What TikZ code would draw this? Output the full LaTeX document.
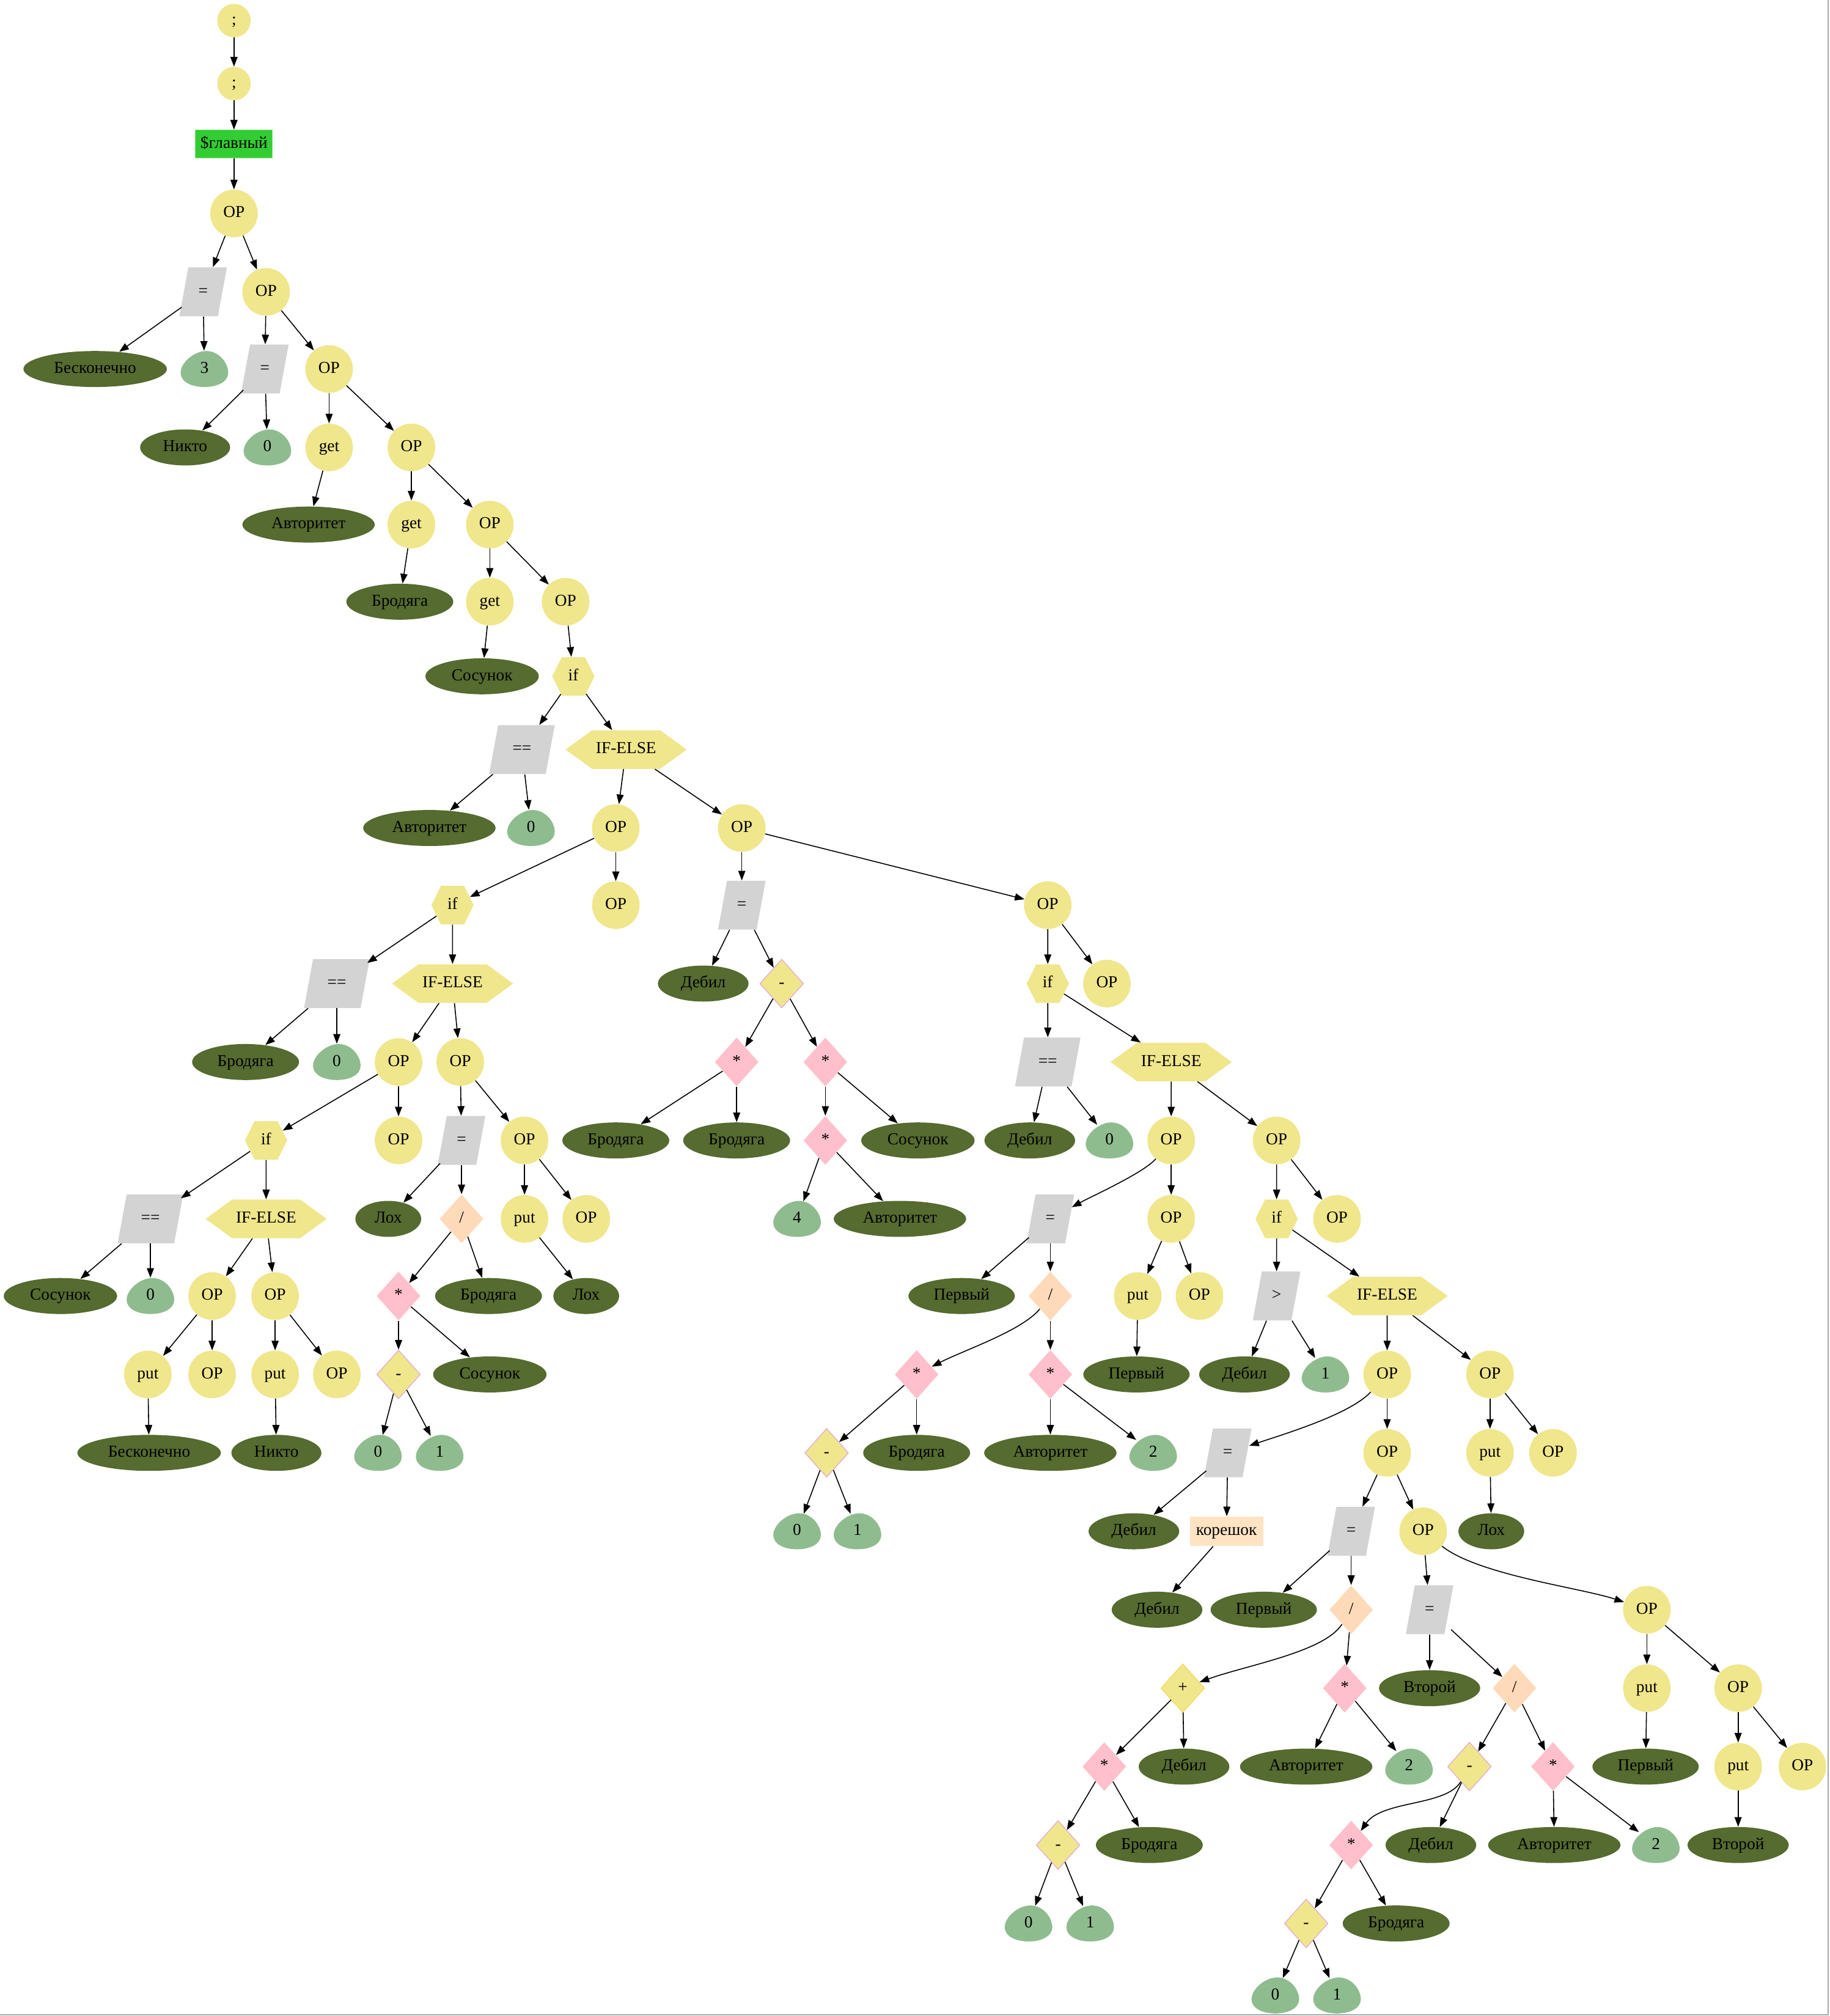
\documentclass[tikz,border=0pt]{standalone}
\usepackage{fontspec}
\setmainfont{Liberation Serif}
\usetikzlibrary{arrows.meta,shapes.geometric,shapes.symbols}
\definecolor{khakic}{HTML}{F0E68C}
\definecolor{lgrayc}{HTML}{D3D3D3}
\definecolor{doliv}{HTML}{556B2F}
\definecolor{eggc}{HTML}{8FBC8F}
\definecolor{limec}{HTML}{32CD32}
\definecolor{pinkc}{HTML}{FFC0CB}
\definecolor{peachc}{HTML}{FFDAB9}
\definecolor{bisquec}{HTML}{FFE4C4}
\definecolor{plumc}{HTML}{DDA0DD}
\definecolor{goldc}{HTML}{F2D94A}
\tikzset{
  every node/.append style={text height=9pt, text depth=2.6pt},
  semi/.style={circle, fill=khakic, minimum size=26pt, inner sep=0pt},
  opn/.style={circle, fill=khakic, minimum size=37pt, inner sep=0pt},
  mainbox/.style={rectangle, fill=limec, draw=limec!60!white, line width=0.4pt, minimum width=60pt, minimum height=22pt, inner sep=2pt},
  kbox/.style={rectangle, fill=bisquec, minimum width=57pt, minimum height=23pt, inner sep=2pt},
  asgbox/.style={rectangle, minimum height=38pt, inner sep=0pt},
  var/.style={ellipse, fill=doliv, minimum height=28pt, inner xsep=7.5pt, inner ysep=1pt},
  eggtext/.style={ellipse, minimum width=37pt, minimum height=28pt, inner sep=0pt},
  ifhex/.style={signal, signal to=east and west, signal pointer angle=127, fill=khakic, minimum height=30pt, inner xsep=5pt, inner ysep=0pt},
  ifelse/.style={signal, signal to=east and west, signal pointer angle=72, fill=khakic, minimum height=30pt, inner xsep=3pt, inner ysep=0pt},
  dmd/.style={diamond, minimum width=34pt, minimum height=38pt, inner sep=0pt},
  subd/.style={dmd, fill=khakic, draw=plumc, line width=0.5pt},
  plusd/.style={dmd, fill=khakic, draw=goldc, line width=0.5pt},
  muld/.style={dmd, fill=pinkc},
  divd/.style={dmd, fill=peachc},
  conn/.style={-{Triangle[length=7.5pt,width=5.5pt]}, line width=0.75pt},
}
\newcommand\eggnode[3]{%
  \fill[eggc, shift={(#2)}] (1.5,-14) .. controls (11,-14) and (18.5,-5) .. (18.5,3) .. controls (18.5,10) and (10,14) .. (0,14) .. controls (-10,14) and (-18.5,10) .. (-18.5,3) .. controls (-18.5,-5) and (-8,-14) .. (1.5,-14) -- cycle;
  \node[eggtext] (#1) at (#2) {#3};}
% parallelogram: name, position, text, half edge width
\newcommand\asgnode[4]{%
  \fill[lgrayc, shift={(#2)}] (-#4+3.5,-19) -- (#4+3.5,-19) -- (#4-3.5,19) -- (-#4-3.5,19) -- cycle;
  \node[asgbox, minimum width=2*#4+3pt] (#1) at (#2) {#3};}
\begin{document}
\begin{tikzpicture}[x=1pt, y=-1pt, font=\fontsize{13}{15}\selectfont]
\useasboundingbox (0,0) rectangle (1423,1568);
\fill[white] (0,0) rectangle (1423,1568);
\draw[gray!70, line width=1pt] (1422,0) -- (1422,1567) -- (0,1567);
% top chain
\node[semi] (s1) at (182,16) {;};
\node[semi] (s2) at (182,65) {;};
\node[mainbox] (m) at (182,112) {\$главный};
\node[opn] (o1) at (182,166) {OP};
\asgnode{e1}{158,227}{=}{15}
\node[opn] (o2) at (207,227) {OP};
\node[var] (v1) at (74,287) {Бесконечно};
\eggnode{k1}{159,287}{3}
\asgnode{e2}{206,287}{=}{15}
\node[opn] (o3) at (256,287) {OP};
\node[var] (v2) at (144,348) {Никто};
\eggnode{k2}{208,348}{0}
\node[opn] (g1) at (256,348) {get};
\node[opn] (o4) at (320,348) {OP};
\node[var] (v3) at (240,408) {Авторитет};
\node[opn] (g2) at (320,408) {get};
\node[opn] (o5) at (381,408) {OP};
\node[var] (v4) at (311,468) {Бродяга};
\node[opn] (g3) at (381,468) {get};
\node[opn] (o6) at (440,468) {OP};
\node[var] (v5) at (375,526) {Сосунок};
\node[ifhex] (i1) at (446,526) {if};
\asgnode{c1}{406,583}{==}{22}
\node[ifelse] (ie1) at (487,583) {IF-ELSE};
\node[var] (v6) at (334,644) {Авторитет};
\eggnode{k3}{413,644}{0}
\node[opn] (o7) at (479,644) {OP};
\node[opn] (o8) at (577,644) {OP};
% o7 branch
\node[ifhex] (i2) at (352,704) {if};
\node[opn] (o9) at (479,704) {OP};
\asgnode{c2}{262,765}{==}{22}
\node[ifelse] (ie2) at (352,765) {IF-ELSE};
\node[var] (v7) at (191,826) {Бродяга};
\eggnode{k4}{262,826}{0}
\node[opn] (o10) at (310,826) {OP};
\node[opn] (o11) at (358,826) {OP};
\node[ifhex] (i3) at (207,887) {if};
\node[opn] (o12) at (310,887) {OP};
\asgnode{c3}{117,948}{==}{22}
\node[ifelse] (ie3) at (207,948) {IF-ELSE};
\node[var] (v8) at (47,1008) {Сосунок};
\eggnode{k5}{117,1008}{0}
\node[opn] (o13) at (165,1008) {OP};
\node[opn] (o14) at (214,1008) {OP};
\node[opn] (p1) at (115,1069) {put};
\node[opn] (o15) at (165,1069) {OP};
\node[var] (v9) at (116,1130) {Бесконечно};
\node[opn] (p2) at (214,1069) {put};
\node[opn] (o16) at (262,1069) {OP};
\node[var] (v10) at (215,1130) {Никто};
% o11 branch
\asgnode{e3}{359,887}{=}{15}
\node[opn] (o17) at (408,887) {OP};
\node[var] (v11) at (302,948) {Лох};
\node[divd] (d1) at (359,948) {/};
\node[muld] (x1) at (310,1008) {*};
\node[var] (v12) at (380,1008) {Бродяга};
\node[subd] (n1) at (310,1069) {-};
\node[var] (v13) at (381,1069) {Сосунок};
\eggnode{k6}{294,1130}{0}
\eggnode{k7}{342,1130}{1}
\node[opn] (p3) at (408,948) {put};
\node[opn] (o18) at (456,948) {OP};
\node[var] (v14) at (456,1008) {Лох};
% o8 branch
\asgnode{e4}{577,704}{=}{15}
\node[opn] (o19) at (815,704) {OP};
\node[var] (v15) at (547,765) {Дебил};
\node[subd] (n2) at (608,765) {-};
\node[muld] (x2) at (573,826) {*};
\node[muld] (x3) at (642,826) {*};
\node[var] (v16) at (479,887) {Бродяга};
\node[var] (v17) at (573,887) {Бродяга};
\node[muld] (x4) at (642,887) {*};
\node[var] (v18) at (714,887) {Сосунок};
\eggnode{k8}{620,948}{4}
\node[var] (v19) at (700,948) {Авторитет};
% o19 branch
\node[ifhex] (i4) at (815,765) {if};
\node[opn] (o20) at (861,765) {OP};
\asgnode{c4}{815,826}{==}{22}
\node[ifelse] (ie4) at (911,826) {IF-ELSE};
\node[var] (v20) at (801,887) {Дебил};
\eggnode{k9}{863,887}{0}
\node[opn] (o21) at (911,887) {OP};
\node[opn] (o22) at (993,887) {OP};
\asgnode{e5}{817,948}{=}{15}
\node[opn] (o23) at (911,948) {OP};
\node[var] (v21) at (748,1008) {Первый};
\node[divd] (d2) at (817,1008) {/};
\node[muld] (x5) at (713,1069) {*};
\node[muld] (x6) at (817,1069) {*};
\node[subd] (n3) at (643,1130) {-};
\node[var] (v22) at (713,1130) {Бродяга};
\eggnode{k10}{620,1191}{0}
\eggnode{k11}{667,1191}{1}
\node[var] (v23) at (817,1130) {Авторитет};
\eggnode{k12}{897,1130}{2}
\node[opn] (p4) at (885,1008) {put};
\node[opn] (o24) at (933,1008) {OP};
\node[var] (v24) at (884,1069) {Первый};
% o22 branch
\node[ifhex] (i5) at (993,948) {if};
\node[opn] (o25) at (1040,948) {OP};
\asgnode{c5}{993,1008}{>}{15}
\node[ifelse] (ie5) at (1079,1008) {IF-ELSE};
\node[var] (v25) at (968,1069) {Дебил};
\eggnode{k13}{1031,1069}{1}
\node[opn] (o26) at (1079,1069) {OP};
\node[opn] (o27) at (1159,1069) {OP};
\asgnode{e6}{955,1130}{=}{15}
\node[opn] (o28) at (1079,1130) {OP};
\node[var] (v26) at (882,1191) {Дебил};
\node[kbox] (kb) at (954,1191) {корешок};
\node[var] (v27) at (900,1252) {Дебил};
\asgnode{e7}{1051,1191}{=}{15}
\node[opn] (o29) at (1107,1191) {OP};
\node[var] (v28) at (983,1252) {Первый};
\node[divd] (d3) at (1051,1252) {/};
\node[plusd] (pl) at (920,1313) {+};
\node[muld] (x7) at (1046,1313) {*};
\node[muld] (x8) at (859,1374) {*};
\node[var] (v29) at (921,1374) {Дебил};
\node[subd] (n4) at (823,1435) {-};
\node[var] (v30) at (894,1435) {Бродяга};
\eggnode{k14}{800,1496}{0}
\eggnode{k15}{848,1496}{1}
\node[var] (v31) at (1016,1374) {Авторитет};
\eggnode{k16}{1096,1374}{2}
\asgnode{e8}{1112,1252}{=}{15}
\node[opn] (o30) at (1281,1252) {OP};
\node[var] (v32) at (1112,1313) {Второй};
\node[divd] (d4) at (1178,1313) {/};
\node[subd] (n5) at (1143,1374) {-};
\node[muld] (x9) at (1208,1374) {*};
\node[muld] (x10) at (1051,1435) {*};
\node[var] (v33) at (1113,1435) {Дебил};
\node[subd] (n6) at (1016,1496) {-};
\node[var] (v34) at (1086,1496) {Бродяга};
\eggnode{k17}{992,1552}{0}
\eggnode{k18}{1040,1552}{1}
\node[var] (v35) at (1209,1435) {Авторитет};
\eggnode{k19}{1288,1435}{2}
\node[opn] (p5) at (1281,1313) {put};
\node[opn] (o31) at (1352,1313) {OP};
\node[var] (v36) at (1280,1374) {Первый};
\node[opn] (p6) at (1352,1374) {put};
\node[opn] (o32) at (1402,1374) {OP};
\node[var] (v37) at (1352,1435) {Второй};
\node[opn] (p7) at (1159,1130) {put};
\node[opn] (o33) at (1208,1130) {OP};
\node[var] (v38) at (1160,1191) {Лох};
% straight connectors
\foreach \a/\b in {s1/s2, s2/m, m/o1, o1/e1, o1/o2, e1/v1, e1/k1, o2/e2, o2/o3, e2/v2, e2/k2,
  o3/g1, o3/o4, g1/v3, o4/g2, o4/o5, g2/v4, o5/g3, o5/o6, g3/v5, o6/i1, i1/c1, i1/ie1,
  c1/v6, c1/k3, ie1/o7, ie1/o8, o7/i2, o7/o9, i2/c2, i2/ie2, c2/v7, c2/k4, ie2/o10, ie2/o11,
  o10/i3, o10/o12, i3/c3, i3/ie3, c3/v8, c3/k5, ie3/o13, ie3/o14, o13/p1, o13/o15, p1/v9,
  o14/p2, o14/o16, p2/v10, o11/e3, o11/o17, e3/v11, e3/d1, d1/x1, d1/v12, x1/n1, x1/v13,
  n1/k6, n1/k7, o17/p3, o17/o18, p3/v14, o8/e4, o8/o19, e4/v15, e4/n2, n2/x2, n2/x3,
  x2/v16, x2/v17, x3/x4, x3/v18, x4/k8, x4/v19, o19/i4, o19/o20, i4/c4, i4/ie4, c4/v20,
  c4/k9, ie4/o21, ie4/o22, o21/o23, e5/v21, e5/d2, d2/x6, x5/n3, x5/v22, n3/k10, n3/k11,
  x6/v23, x6/k12, o23/p4, o23/o24, p4/v24, o22/i5, o22/o25, i5/c5, i5/ie5, c5/v25, c5/k13,
  ie5/o26, ie5/o27, o26/o28, e6/v26, e6/kb, kb/v27, o28/e7, o28/o29, e7/v28, e7/d3,
  d3/x7, pl/x8, pl/v29, x8/n4, x8/v30, n4/k14, n4/k15, x7/v31, x7/k16, o29/e8, e8/v32,
  e8/d4, d4/n5, d4/x9, n5/v33, x10/n6, x10/v34, n6/k17, n6/k18, x9/v35, x9/k19,
  o30/p5, o30/o31, p5/v36, o31/p6, o31/o32, p6/v37, o27/p7, o27/o33, p7/v38}
  \draw[conn] (\a) -- (\b);
% curved connectors
\draw[conn] (o21) .. controls (890,912) and (850,930) .. (e5);
\draw[conn] (d2) .. controls (795,1035) and (750,1050) .. (x5);
\draw[conn] (o26) .. controls (1050,1100) and (1000,1115) .. (e6);
\draw[conn] (d3) .. controls (1030,1285) and (970,1295) .. (pl);
\draw[conn] (o29) .. controls (1150,1225) and (1230,1235) .. (o30);
\draw[conn] (n5) .. controls (1125,1405) and (1075,1400) .. (x10);
\end{tikzpicture}
\end{document}
